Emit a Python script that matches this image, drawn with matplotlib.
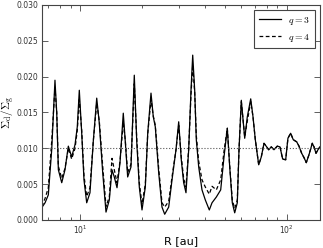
import matplotlib
matplotlib.use("Agg")
import matplotlib.pyplot as plt
from matplotlib.ticker import LogLocator, MultipleLocator, NullFormatter

plt.rcParams['mathtext.fontset'] = 'cm'

# radius [au]
R = [6.50, 6.75, 7.00, 7.27, 7.54, 7.69, 7.83, 8.13, 8.43, 8.75,
     9.08, 9.43, 9.67, 9.89, 10.16, 10.42, 10.74, 11.14, 11.56, 12.01,
     12.36, 12.84, 13.32, 13.82, 14.24, 14.61, 15.06, 15.57, 16.15, 16.51,
     16.96, 17.60, 18.26, 18.76, 19.31, 19.90, 20.65, 21.21, 22.00, 22.57,
     23.08, 23.97, 24.87, 25.63, 26.80, 27.81, 29.07, 29.96, 30.84, 31.67,
     32.50, 33.49, 34.37, 35.03, 35.81, 36.46, 37.45, 38.85, 40.31, 42.15,
     43.45, 45.58, 47.86, 49.66, 51.52, 52.92, 54.47, 55.95, 57.60, 58.70,
     60.23, 62.56, 64.40, 66.89, 68.62, 70.41, 73.12, 75.27, 77.57, 79.94,
     81.73, 84.14, 86.70, 89.95, 92.71, 95.52, 98.79, 101.3, 104.4, 107.5,
     111.7, 114.6, 118.1, 121.2, 124.3, 128.1, 132.9, 135.5, 138.5, 141.6,
     144.8]

# dust-to-gas ratio, q = 3
ratio_q3 = [0.0017, 0.0024, 0.0035, 0.0098, 0.0195, 0.0149, 0.0070, 0.0052, 0.0070, 0.0103,
            0.0088, 0.0105, 0.0130, 0.0181, 0.0121, 0.0056, 0.0024, 0.0038, 0.0110, 0.0170,
            0.0135, 0.0066, 0.0011, 0.0028, 0.0070, 0.0060, 0.0045, 0.0080, 0.0149, 0.0110,
            0.0060, 0.0074, 0.0202, 0.0110, 0.0046, 0.0014, 0.0046, 0.0121, 0.0177, 0.0144,
            0.0130, 0.0066, 0.0018, 0.0008, 0.0018, 0.0056, 0.0098, 0.0137, 0.0084, 0.0052,
            0.0038, 0.0098, 0.0181, 0.0230, 0.0181, 0.0112, 0.0074, 0.0042, 0.0028, 0.0014,
            0.0024, 0.0032, 0.0042, 0.0088, 0.0128, 0.0074, 0.0024, 0.0010, 0.0024, 0.0098,
            0.0167, 0.0114, 0.0144, 0.0169, 0.0144, 0.0112, 0.0077, 0.0088, 0.0107, 0.0102,
            0.0098, 0.0102, 0.0098, 0.0103, 0.0102, 0.0085, 0.0084, 0.0114, 0.0121, 0.0112,
            0.0109, 0.0103, 0.0093, 0.0087, 0.0080, 0.0091, 0.0107, 0.0102, 0.0093, 0.0098,
            0.0102]

# dust-to-gas ratio, q = 4
ratio_q4 = [0.0019, 0.0030, 0.0045, 0.0110, 0.0185, 0.0150, 0.0075, 0.0058, 0.0072, 0.0100,
            0.0085, 0.0100, 0.0125, 0.0168, 0.0125, 0.0062, 0.0033, 0.0045, 0.0110, 0.0163,
            0.0138, 0.0075, 0.0019, 0.0032, 0.0086, 0.0070, 0.0052, 0.0082, 0.0136, 0.0112,
            0.0066, 0.0078, 0.0190, 0.0115, 0.0052, 0.0022, 0.0050, 0.0120, 0.0168, 0.0145,
            0.0132, 0.0072, 0.0024, 0.0018, 0.0026, 0.0060, 0.0098, 0.0132, 0.0088, 0.0058,
            0.0046, 0.0100, 0.0175, 0.0216, 0.0178, 0.0118, 0.0082, 0.0056, 0.0046, 0.0036,
            0.0047, 0.0042, 0.0056, 0.0096, 0.0128, 0.0076, 0.0028, 0.0016, 0.0028, 0.0098,
            0.0165, 0.0116, 0.0138, 0.0165, 0.0144, 0.0112, 0.0077, 0.0088, 0.0107, 0.0102,
            0.0098, 0.0102, 0.0098, 0.0103, 0.0102, 0.0085, 0.0084, 0.0114, 0.0121, 0.0112,
            0.0109, 0.0103, 0.0093, 0.0087, 0.0080, 0.0091, 0.0107, 0.0102, 0.0093, 0.0098,
            0.0102]

fig = plt.figure(figsize=(3.23, 2.48), dpi=100)
ax = fig.add_axes([0.129, 0.113, 0.862, 0.867])

ax.plot(R, ratio_q3, color='k', lw=0.9, label='$q=3$')
ax.plot(R, ratio_q4, color='k', lw=0.9, ls='--', dashes=(3, 2), label='$q=4$')
ax.axhline(0.01, color='#555555', lw=0.8, ls=':')

ax.set_xscale('log')
ax.set_xlim(6.5, 145)
ax.set_ylim(0, 0.03)
ax.yaxis.set_major_locator(MultipleLocator(0.005))
ax.xaxis.set_minor_locator(LogLocator(base=10, subs=range(2, 10)))
ax.xaxis.set_minor_formatter(NullFormatter())

for s in ax.spines.values():
    s.set_color('#444444')
    s.set_linewidth(0.8)
ax.tick_params(which='both', direction='in', top=True, right=True,
               colors='#444444', labelcolor='#333333', labelsize=5.5, width=0.6,
               pad=2.5)
ax.tick_params(which='major', length=4)
ax.tick_params(which='minor', length=2)

ax.set_xlabel('R [au]', fontsize=8)
ax.set_ylabel(r'$\Sigma_\mathrm{d}/\Sigma_\mathrm{g}$', fontsize=8)
ax.xaxis.set_label_coords(0.5, -0.076)
ax.yaxis.set_label_coords(-0.088, 0.5)

leg = ax.legend(loc='upper right', fontsize=7, fancybox=False, framealpha=1,
                edgecolor='#444444', handlelength=2.2, borderpad=0.5)
leg.get_frame().set_linewidth(0.8)

fig.savefig('out.png', dpi=100)
